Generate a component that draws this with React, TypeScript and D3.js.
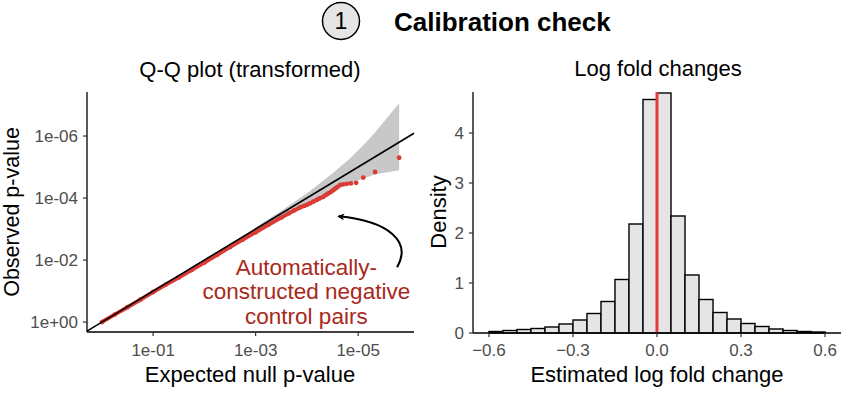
import React from 'react';
import * as d3 from 'd3';

// Q-Q plot, all values are -log10(p)
const qqExpected = [0, 0.25, 0.5, 0.75, 1.0, 1.25, 1.5, 1.75, 2.0, 2.25, 2.5, 2.75, 3.0, 3.25, 3.5, 3.65, 3.75, 3.87, 3.95, 4.01, 4.06, 4.12, 4.19, 4.25, 4.32, 4.37, 4.42, 4.47, 4.52, 4.56, 4.6, 4.65, 4.71, 4.78, 4.86, 4.96, 5.1, 5.33, 5.8];
const qqObserved = [0, 0.24, 0.48, 0.72, 0.97, 1.21, 1.44, 1.68, 1.92, 2.17, 2.42, 2.66, 2.9, 3.14, 3.37, 3.51, 3.6, 3.7, 3.75, 3.79, 3.83, 3.88, 3.94, 3.99, 4.04, 4.1, 4.15, 4.2, 4.26, 4.31, 4.36, 4.42, 4.44, 4.46, 4.47, 4.49, 4.66, 4.84, 5.3];

// confidence band around the diagonal
const bandExpected = [1.5, 2.0, 2.5, 3.0, 3.5, 4.03, 4.52, 4.85, 5.1, 5.32, 5.8];
const bandLower = [1.49, 1.98, 2.47, 2.95, 3.41, 3.88, 4.27, 4.49, 4.62, 4.76, 4.9];
const bandUpper = [1.51, 2.02, 2.53, 3.05, 3.59, 4.19, 4.82, 5.29, 5.7, 6.1, 7.06];

const qqXTicks = [1, 3, 5];
const qqXLabels = ['1e-01', '1e-03', '1e-05'];
const qqYTicks = [0, 2, 4, 6];
const qqYLabels = ['1e+00', '1e-02', '1e-04', '1e-06'];

// log fold change histogram
const binStart = [-0.6, -0.55, -0.5, -0.45, -0.4, -0.35, -0.3, -0.25, -0.2, -0.15, -0.1, -0.05, 0, 0.05, 0.1, 0.15, 0.2, 0.25, 0.3, 0.35, 0.4, 0.45, 0.5, 0.55];
const binDensity = [0.03, 0.05, 0.07, 0.09, 0.12, 0.18, 0.26, 0.39, 0.63, 1.07, 2.18, 4.67, 4.8, 2.34, 1.16, 0.67, 0.41, 0.28, 0.19, 0.13, 0.08, 0.05, 0.03, 0.02];
const binWidth = 0.05;
const lfcTicks = [-0.6, -0.3, 0, 0.3, 0.6];
const densityTicks = [0, 1, 2, 3, 4];

const annotationLines = ['Automatically-', 'constructed negative', 'control pairs'];

const FONT = '"Liberation Sans", Arial, Helvetica, sans-serif';
const RED = '#d93b35';
const TEXT_RED = '#a9281b';
const TICK_GREY = '#4d4d4d';

function QQPanel() {
  const x = d3.scaleLinear().domain([-0.29, 6.09]).range([87, 414]);
  const y = d3.scaleLinear().domain([-0.32, 7.42]).range([332, 92]);

  const band = d3.area<number>()
    .x((d, i) => x(bandExpected[i]))
    .y0((d, i) => y(bandLower[i]))
    .y1((d, i) => y(bandUpper[i]));

  const pts = qqExpected.map((e, i) => [e, qqObserved[i]] as [number, number]);
  const dense = pts.filter(p => p[0] <= 4.6);
  const line = d3.line<[number, number]>().x(d => x(d[0])).y(d => y(d[1]));

  const [x0, x1] = x.domain();

  // curved arrow, in data units
  const arrow = d3.path();
  arrow.moveTo(x(5.76), y(1.77));
  arrow.bezierCurveTo(x(6.05), y(2.6), x(5.6), y(3.25), x(4.62), y(3.41));

  return (
    <g>
      <text x={250} y={77} textAnchor="middle" fontSize={22} fontFamily={FONT}>Q-Q plot (transformed)</text>
      <path d={band(bandExpected) || ''} fill="#c8c8c8" />
      <path d={line(dense) || ''} fill="none" stroke={RED} strokeWidth={4} strokeLinejoin="round" />
      {pts.map((p, i) => (
        <circle key={i} cx={x(p[0])} cy={y(p[1])} r={2.4} fill={RED} />
      ))}
      <line x1={x(x0)} y1={y(x0)} x2={x(x1)} y2={y(x1)} stroke="#000" strokeWidth={1.6} />

      {/* axes */}
      <line x1={87} y1={y.range()[1]} x2={87} y2={332} stroke="#000" strokeWidth={1.3} />
      <line x1={87} y1={332} x2={414} y2={332} stroke="#000" strokeWidth={1.3} />
      {qqYTicks.map((t, i) => (
        <g key={t}>
          <line x1={83} x2={87} y1={y(t)} y2={y(t)} stroke="#333" strokeWidth={1.2} />
          <text x={78} y={y(t)} dy="0.36em" textAnchor="end" fontSize={17} fill={TICK_GREY} fontFamily={FONT}>{qqYLabels[i]}</text>
        </g>
      ))}
      {qqXTicks.map((t, i) => (
        <g key={t}>
          <line x1={x(t)} x2={x(t)} y1={332} y2={336} stroke="#333" strokeWidth={1.2} />
          <text x={x(t)} y={356} textAnchor="middle" fontSize={17} fill={TICK_GREY} fontFamily={FONT}>{qqXLabels[i]}</text>
        </g>
      ))}
      <text x={250} y={382} textAnchor="middle" fontSize={22} fontFamily={FONT}>Expected null p-value</text>
      <text transform={`translate(19,212) rotate(-90)`} textAnchor="middle" fontSize={21.5} fontFamily={FONT}>Observed p-value</text>

      {/* annotation */}
      {annotationLines.map((s, i) => (
        <text key={s} x={x(3.99)} y={y(1.52) + i * 24.5} textAnchor="middle" fontSize={22.5} fill={TEXT_RED} fontFamily={FONT}>{s}</text>
      ))}
      <defs>
        <marker id="ah" viewBox="0 0 10 10" refX="8" refY="5" markerWidth="7" markerHeight="7" orient="auto" markerUnits="userSpaceOnUse">
          <path d="M0,0 L10,5 L0,10 L2.5,5 Z" fill="#000" />
        </marker>
      </defs>
      <path d={arrow.toString()} fill="none" stroke="#000" strokeWidth={2} markerEnd="url(#ah)" />
    </g>
  );
}

function HistPanel() {
  const x = d3.scaleLinear().domain([-0.657, 0.657]).range([473, 841]);
  const y = d3.scaleLinear().domain([0, 4.82]).range([333, 92]);

  return (
    <g>
      <text x={658} y={76} textAnchor="middle" fontSize={22} fontFamily={FONT}>Log fold changes</text>
      {binStart.map((b, i) => (
        <rect key={b} x={x(b)} y={y(binDensity[i])} width={x(b + binWidth) - x(b)} height={y(0) - y(binDensity[i])}
          fill="#e5e5e5" stroke="#000" strokeWidth={1.4} />
      ))}
      <line x1={x(0)} x2={x(0)} y1={y(0)} y2={y(4.82)} stroke="#e23b3b" strokeWidth={3} />

      <line x1={473} y1={92} x2={473} y2={333} stroke="#000" strokeWidth={1.3} />
      <line x1={473} y1={333} x2={841} y2={333} stroke="#000" strokeWidth={1.3} />
      {densityTicks.map(t => (
        <g key={t}>
          <line x1={469} x2={473} y1={y(t)} y2={y(t)} stroke="#333" strokeWidth={1.2} />
          <text x={464} y={y(t)} dy="0.36em" textAnchor="end" fontSize={17} fill={TICK_GREY} fontFamily={FONT}>{t}</text>
        </g>
      ))}
      {lfcTicks.map(t => (
        <g key={t}>
          <line x1={x(t)} x2={x(t)} y1={333} y2={337} stroke="#333" strokeWidth={1.2} />
          <text x={x(t)} y={356} textAnchor="middle" fontSize={17} fill={TICK_GREY} fontFamily={FONT}>{d3.format('.1f')(t)}</text>
        </g>
      ))}
      <text x={657} y={382} textAnchor="middle" fontSize={22} fontFamily={FONT}>Estimated log fold change</text>
      <text transform={`translate(446,212) rotate(-90)`} textAnchor="middle" fontSize={22} fontFamily={FONT}>Density</text>
    </g>
  );
}

export default function App() {
  return (
    <svg width={861} height={398} style={{ position: 'absolute', left: 0, top: 0, background: '#fff' }}>
      <circle cx={341} cy={21} r={18.5} fill="#e5e5e5" stroke="#000" strokeWidth={1.5} />
      <text x={341} y={21} dy="0.36em" textAnchor="middle" fontSize={23} fontFamily={FONT}>1</text>
      <text x={394} y={31} fontSize={26} fontWeight="bold" fontFamily={FONT}>Calibration check</text>
      <QQPanel />
      <HistPanel />
    </svg>
  );
}
